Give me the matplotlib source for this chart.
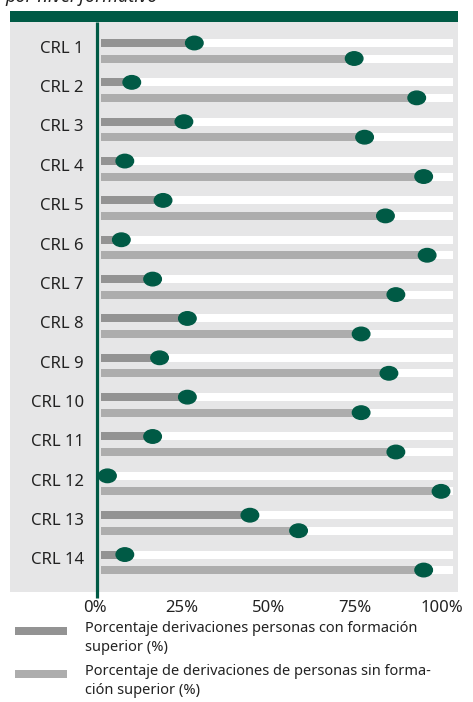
import matplotlib.pyplot as plt
from matplotlib.patches import Ellipse, Rectangle
import matplotlib.transforms as mtransforms

# data (% of referrals)
centros = ["CRL 1", "CRL 2", "CRL 3", "CRL 4", "CRL 5", "CRL 6", "CRL 7",
           "CRL 8", "CRL 9", "CRL 10", "CRL 11", "CRL 12", "CRL 13", "CRL 14"]
con_formacion = [27, 9, 24, 7, 18, 6, 15, 25, 17, 25, 15, 2, 43, 7]
sin_formacion = [73, 91, 76, 93, 82, 94, 85, 75, 83, 75, 85, 98, 57, 93]
ticks = [0, 25, 50, 75, 100]
tick_labels = ["0%", "25%", "50%", "75%", "100%"]
leyenda = ["Porcentaje derivaciones personas con formación\nsuperior (%)",
           "Porcentaje de derivaciones de personas sin forma-\nción superior (%)"]

GREEN = "#005a45"
DARK = "#939393"
LIGHT = "#adadad"
PANEL = "#e6e6e7"
FONT = "Noto Sans"

W, H = 473, 702
fig = plt.figure(figsize=(W / 100, H / 100), dpi=100)

# panel in pixels
px0, px1, py0, py1 = 10, 458, 22, 592
ax = fig.add_axes([px0 / W, 1 - py1 / H, (px1 - px0) / W, (py1 - py0) / H])
ax.set_facecolor(PANEL)

# x scale: 0% at 100.5 px, 100% at 448 px
sx = (448 - 100.5) / 100
ax.set_xlim(-(100.5 - px0) / sx, 100 + (px1 - 448) / sx)
# y scale: one row = 39.35 px, first row centre at 50.75 px
sy = 39.35
y0 = 50.75
ax.set_ylim((py1 - y0) / sy, (py0 - y0) / sy)
for s in ax.spines.values():
    s.set_visible(False)
ax.set_xticks([])
ax.set_yticks([])

track_end = (453 - 100.5) / sx
bh = 8 / sy
off = 7.75 / sy
ew, eh = 17.5 / sx, 13.5 / sy

for i, (a, b) in enumerate(zip(con_formacion, sin_formacion)):
    for y, v, c in [(i - off, a, DARK), (i + off, b, LIGHT)]:
        ax.barh(y, track_end, height=bh, color="white", zorder=1)
        ax.barh(y, v, height=bh, color=c, zorder=2)
        ax.add_patch(Ellipse((v, y), ew, eh, color=GREEN, zorder=3))
    ax.text(-(100.5 - 84) / sx, i - 2 / sy, centros[i], ha="right", va="center",
            fontsize=12, family=FONT, color="#222222")

# green vertical axis line, runs a bit below the panel
x_line = (97 - 100.5) / sx
ax.plot([x_line, x_line], [(py0 - y0) / sy, (598 - y0) / sy],
        color=GREEN, lw=2.3, clip_on=False, zorder=4, solid_capstyle="butt")

# green header band
fig.add_artist(Rectangle((px0 / W, 1 - 22 / H), (px1 - px0) / W, 11 / H,
                         transform=fig.transFigure, color=GREEN, lw=0))

# x tick labels
shift = mtransforms.offset_copy(ax.transData, fig=fig, x=-6, y=0, units="dots")
for t, lab in zip(ticks, tick_labels):
    ax.text(t, (608 - y0) / sy, lab, ha="center", va="center", fontsize=12,
            family=FONT, color="#222222", transform=shift, clip_on=False)

# legend
for k, (txt, c) in enumerate(zip(leyenda, [DARK, LIGHT])):
    yk = 631 + 43 * k
    fig.add_artist(Rectangle((15 / W, 1 - (yk + 4) / H), 52 / W, 8 / H,
                             transform=fig.transFigure, color=c, lw=0))
    fig.text(85 / W, 1 - (yk - 10) / H, txt, ha="left", va="top", fontsize=10.5,
             family=FONT, color="#222222", linespacing=1.35)

# cut-off subtitle at the very top
fig.text(5 / W, 1 - 2 / H, "por nivel formativo", ha="left", va="baseline",
         fontsize=13, family=FONT, style="italic", color="#222222")

fig.savefig("out.png", dpi=100)
